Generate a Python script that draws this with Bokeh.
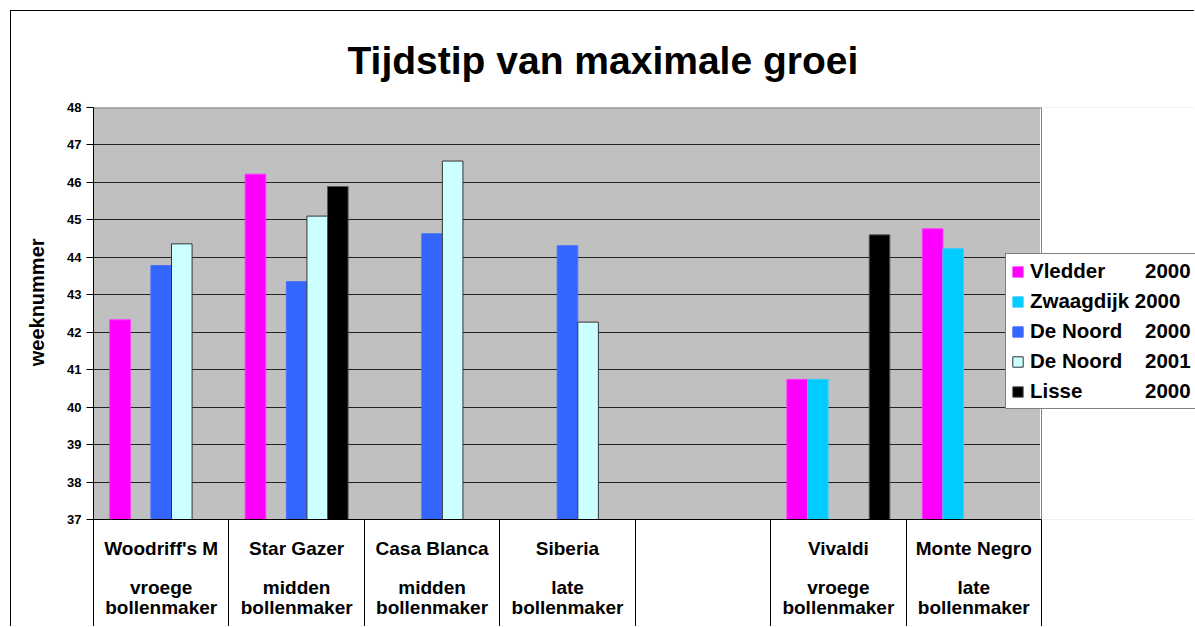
import math
from bokeh.plotting import figure
from bokeh.models import FixedTicker, Range1d, Legend, LegendItem, ColumnDataSource
from bokeh.embed import file_html
from bokeh.resources import INLINE

nan = float("nan")

# ---- data ----
cultivars = ["Woodriff's M", "Star Gazer", "Casa Blanca", "Siberia", "", "Vivaldi", "Monte Negro"]
bulb_types = ["vroege\nbollenmaker", "midden\nbollenmaker", "midden\nbollenmaker",
              "late\nbollenmaker", "", "vroege\nbollenmaker", "late\nbollenmaker"]

vledder_2000 = [42.33, 46.22, nan, nan, nan, 40.74, 44.76]
zwaagdijk_2000 = [nan, nan, nan, nan, nan, 40.74, 44.23]
de_noord_2000 = [43.78, 43.35, 44.63, 44.31, nan, nan, nan]
de_noord_2001 = [44.36, 45.10, 46.57, 42.27, nan, nan, nan]
lisse_2000 = [nan, 45.89, nan, nan, nan, 44.60, nan]

NB = "\u00a0"
series_labels = ["Vledder" + NB * 7 + "2000", "Zwaagdijk 2000", "De Noord" + NB * 4 + "2000",
                 "De Noord" + NB * 4 + "2001", "Lisse" + NB * 11 + "2000"]
series_values = [vledder_2000, zwaagdijk_2000, de_noord_2000, de_noord_2001, lisse_2000]
fill_colors = ["#FF00FF", "#00CCFF", "#3366FF", "#CCFFFF", "#000000"]
line_colors = ["#FF33FF", "#33CCFF", "#4A6FFF", "#333333", "#555555"]

y_min, y_max = 37, 48

FONT = "Liberation Sans"

n_cat = len(cultivars)
W, H = 1184, 616
left_px, top_px, bottom_px = 82, 96, 108
plot_px = 948                      # width of the category area in pixels
frame_px = W - left_px             # frame runs to the right edge so the legend is not clipped
x_end = n_cat * frame_px / plot_px

p = figure(width=W, height=H, output_backend="svg", toolbar_location=None,
           x_range=Range1d(0, x_end), y_range=Range1d(y_min, y_max),
           min_border_left=left_px, min_border_right=0, min_border_top=top_px,
           min_border_bottom=bottom_px)
p.styles = {"margin-left": "10px", "margin-top": "10px",
            "border-left": "1px solid black", "border-top": "1px solid black"}

p.background_fill_color = "#C0C0C0"
p.border_fill_color = "white"
p.outline_line_color = None

# title
p.title.text = "Tijdstip van maximale groei"
p.title.align = "left"
p.title.text_font = FONT
p.title.text_font_size = "39px"
p.title.text_font_style = "bold"
p.title.text_color = "black"
p.title.standoff = 51
p.title.offset = 254

# white-out the part of the frame to the right of the category area
p.quad(left=[n_cat], right=[x_end + 1], bottom=[y_min - 1], top=[y_max + 1],
       fill_color="white", line_color="white", line_width=3)
# plot-area edges (top and right)
p.segment(x0=[0], y0=[y_max], x1=[n_cat], y1=[y_max], line_color="#808080", line_width=2)
p.segment(x0=[n_cat], y0=[y_min], x1=[n_cat], y1=[y_max], line_color="#808080", line_width=1)

# bars
n_series = len(series_values)
slot = 0.152
renderers = []
for j, (vals, fc, lc) in enumerate(zip(series_values, fill_colors, line_colors)):
    xs = [i + 0.5 + (j - (n_series - 1) / 2) * slot for i in range(n_cat)]
    src = ColumnDataSource(dict(x=xs, top=vals))
    r = p.vbar(x="x", top="top", bottom=y_min, width=slot, source=src,
               fill_color=fc, line_color=lc, line_width=1)
    renderers.append(r)

# grid
p.xgrid.grid_line_color = None
p.ygrid.ticker = FixedTicker(ticks=list(range(y_min, y_max)))
p.ygrid.grid_line_color = "#222222"
p.ygrid.grid_line_width = 1

# y axis
yax = p.yaxis[0]
yax.ticker = FixedTicker(ticks=list(range(y_min, y_max + 1)))
yax.axis_label = NB * 4 + "weeknummer"
yax.axis_label_text_font = FONT
yax.axis_label_text_font_size = "20px"
yax.axis_label_text_font_style = "bold"
yax.axis_label_text_color = "black"
yax.axis_label_standoff = 16
yax.major_label_text_font = FONT
yax.major_label_text_font_size = "13px"
yax.major_label_text_font_style = "bold"
yax.major_label_text_color = "black"
yax.major_label_standoff = 5
yax.major_tick_out = 7
yax.major_tick_in = 0
yax.minor_tick_out = 0
yax.minor_tick_in = 0
yax.axis_line_color = "black"
yax.major_tick_line_color = "black"

# x axis
xax = p.xaxis[0]
centers = [i + 0.5 for i in range(n_cat)]
xax.bounds = (0, n_cat)
xax.ticker = FixedTicker(ticks=centers, minor_ticks=list(range(n_cat + 1)))
xax.major_label_overrides = {c: (f"{n}\n\n{t}" if n else " ") for c, n, t in zip(centers, cultivars, bulb_types)}
xax.major_label_text_font = FONT
xax.major_label_text_font_size = "19px"
xax.major_label_text_font_style = "bold"
xax.major_label_text_color = "black"
xax.major_label_text_line_height = 0.95
xax.minor_tick_out = 108
xax.minor_tick_in = 0
xax.major_tick_out = 0
xax.major_tick_in = 0
xax.major_label_standoff = -90
xax.minor_tick_line_color = "black"
xax.axis_line_color = "black"

# legend
legend = Legend(items=[LegendItem(label=lab, renderers=[r]) for lab, r in zip(series_labels, renderers)],
                location=(912, 110), orientation="vertical")
legend.label_text_font = FONT
legend.label_text_font_size = "20.5px"
legend.label_text_font_style = "bold"
legend.label_text_color = "black"
legend.glyph_width = 13
legend.glyph_height = 13
legend.label_height = 24
legend.label_standoff = 6
legend.spacing = 6
legend.padding = 5
legend.margin = 0
legend.border_line_color = "black"
legend.border_line_width = 1
legend.background_fill_color = "white"
legend.background_fill_alpha = 1.0
p.add_layout(legend, "center")

open("out.html", "w").write(file_html(p, INLINE))
